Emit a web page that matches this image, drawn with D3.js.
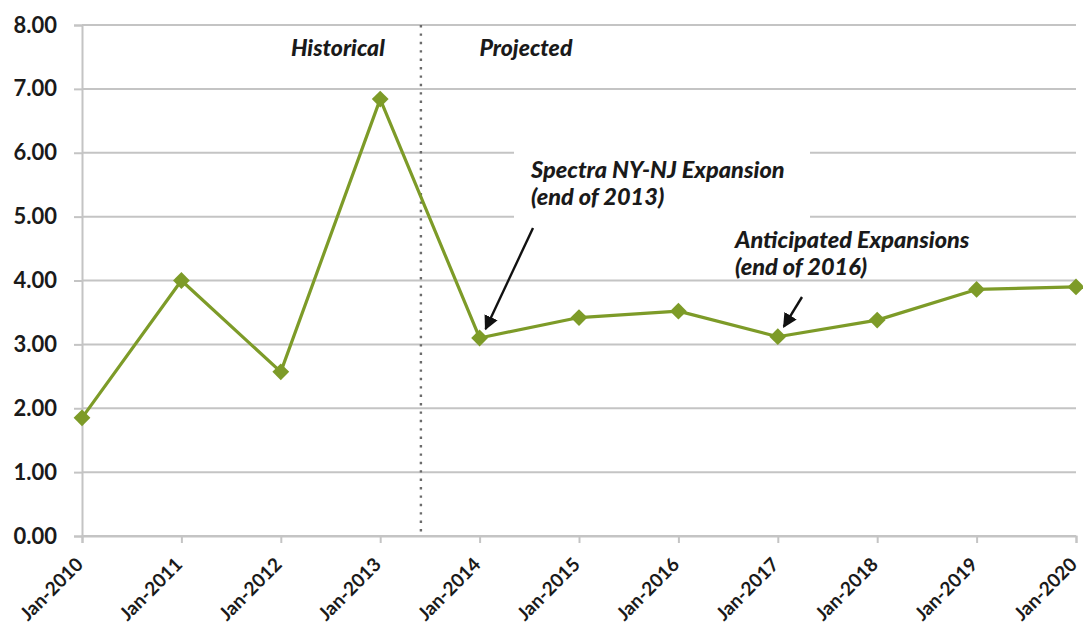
<!DOCTYPE html>
<html>
<head>
<meta charset="utf-8">
<script src="https://cdn.jsdelivr.net/npm/d3@7"></script>
<style>
  html, body { margin: 0; padding: 0; background: #fff; }
  svg { display: block; }
</style>
</head>
<body>
<svg id="chart" width="1083" height="628"></svg>
<script>
// Series: price values by year
const categories = ["Jan-2010", "Jan-2011", "Jan-2012", "Jan-2013", "Jan-2014", "Jan-2015",
                    "Jan-2016", "Jan-2017", "Jan-2018", "Jan-2019", "Jan-2020"];
const values = [1.85, 4.00, 2.57, 6.84, 3.10, 3.42, 3.52, 3.12, 3.38, 3.86, 3.90];
const yTicks = [0, 1, 2, 3, 4, 5, 6, 7, 8];
const periodLabels = ["Historical", "Projected"];
const notes = [
  { lines: ["Spectra NY-NJ Expansion", "(end of 2013)"], target: "Jan-2014" },
  { lines: ["Anticipated Expansions", "(end of 2016)"], target: "Jan-2017" }
];

const svg = d3.select("#chart");
const margin = { left: 82, right: 7, top: 25, bottom: 92 };
const W = 1083, H = 628;

const x = d3.scalePoint().domain(categories).range([margin.left, W - margin.right]);
const y = d3.scaleLinear().domain([0, 8]).range([H - margin.bottom, margin.top]);

const green = "#7d9b28";
const grid = "#c4c4c4";
const font = "Lato, 'Open Sans', sans-serif";

// horizontal gridlines
svg.append("g")
  .selectAll("line")
  .data(yTicks)
  .join("line")
  .attr("x1", margin.left).attr("x2", W - margin.right)
  .attr("y1", d => y(d)).attr("y2", d => y(d))
  .attr("stroke", grid).attr("stroke-width", 2);

// white panel behind the first annotation interrupts the gridlines
svg.append("rect")
  .attr("x", 514).attr("y", y(6.2)).attr("width", 296).attr("height", y(4.85) - y(6.2))
  .attr("fill", "#fff");

// y axis
const yAxis = svg.append("g")
  .attr("transform", `translate(${margin.left},0)`)
  .call(d3.axisLeft(y).tickValues(yTicks).tickFormat(d3.format(".2f")).tickSize(8).tickPadding(17));
yAxis.select(".domain").attr("stroke", grid).attr("stroke-width", 2);
yAxis.selectAll(".tick line").attr("stroke", grid).attr("stroke-width", 2);
yAxis.selectAll("text")
  .attr("fill", "#1a1a1a")
  .style("font-family", font)
  .style("font-weight", "700")
  .style("font-size", "22px");

// x axis
const xAxis = svg.append("g")
  .attr("transform", `translate(0,${y(0)})`)
  .call(d3.axisBottom(x).tickSize(7).tickPadding(6));
xAxis.select(".domain").attr("stroke", grid).attr("stroke-width", 2);
xAxis.selectAll(".tick line").attr("stroke", grid).attr("stroke-width", 2);
xAxis.selectAll("text")
  .attr("fill", "#1a1a1a")
  .style("font-family", font)
  .style("font-weight", "700")
  .style("font-size", "19px")
  .attr("text-anchor", "end")
  .attr("x", 0).attr("y", 0)
  .attr("dy", "0.35em")
  .attr("transform", "translate(-3,25) rotate(-45)");

// divider between historical and projected
const divX = (x("Jan-2013") + x("Jan-2014")) / 2 - 9;
svg.append("line")
  .attr("x1", divX).attr("x2", divX)
  .attr("y1", y(8)).attr("y2", y(0))
  .attr("stroke", "#6b6b6b").attr("stroke-width", 2.4)
  .attr("stroke-dasharray", "2.4,6");

svg.selectAll(".period")
  .data(periodLabels)
  .join("text")
  .attr("class", "period")
  .attr("x", (d, i) => i === 0 ? divX - 83 : divX + 105)
  .attr("y", 56)
  .attr("text-anchor", "middle")
  .attr("fill", "#1a1a1a")
  .style("font-family", font)
  .style("font-weight", "900")
  .style("font-style", "italic")
  .style("font-size", "23px")
  .text(d => d);

// the series line
svg.append("path")
  .datum(values)
  .attr("fill", "none")
  .attr("stroke", green)
  .attr("stroke-width", 3.2)
  .attr("stroke-linejoin", "round")
  .attr("d", d3.line().x((d, i) => x(categories[i])).y(d => y(d)));

// diamond markers
svg.append("g")
  .selectAll("path")
  .data(values)
  .join("path")
  .attr("transform", (d, i) => `translate(${x(categories[i])},${y(d)})`)
  .attr("d", d3.symbol().type(d3.symbolDiamond2).size(180))
  .attr("fill", green);

// annotations
svg.append("defs").append("marker")
  .attr("id", "arrow")
  .attr("viewBox", "0 0 10 10")
  .attr("refX", 9).attr("refY", 5)
  .attr("markerWidth", 6).attr("markerHeight", 6)
  .attr("orient", "auto")
  .append("path").attr("d", "M0,0 L10,5 L0,10 z").attr("fill", "#111");

const notePos = [
  { tx: 531, ty: 178, ax1: 533, ay1: 228, dx: 6, dy: -9 },
  { tx: 735, ty: 248, ax1: 802, ay1: 297, dx: 6, dy: -10 }
];
notes.forEach((n, k) => {
  const p = notePos[k];
  const t = svg.append("text")
    .attr("x", p.tx).attr("y", p.ty)
    .attr("fill", "#1a1a1a")
    .style("font-family", font)
    .style("font-weight", "900")
    .style("font-style", "italic")
    .style("font-size", "23.5px");
  n.lines.forEach((ln, j) => {
    t.append("tspan").attr("x", p.tx).attr("dy", j === 0 ? 0 : 27).text(ln);
  });
  const idx = categories.indexOf(n.target);
  svg.append("line")
    .attr("x1", p.ax1).attr("y1", p.ay1)
    .attr("x2", x(n.target) + p.dx).attr("y2", y(values[idx]) + p.dy)
    .attr("stroke", "#111").attr("stroke-width", 2.4)
    .attr("marker-end", "url(#arrow)");
});
</script>
</body>
</html>
